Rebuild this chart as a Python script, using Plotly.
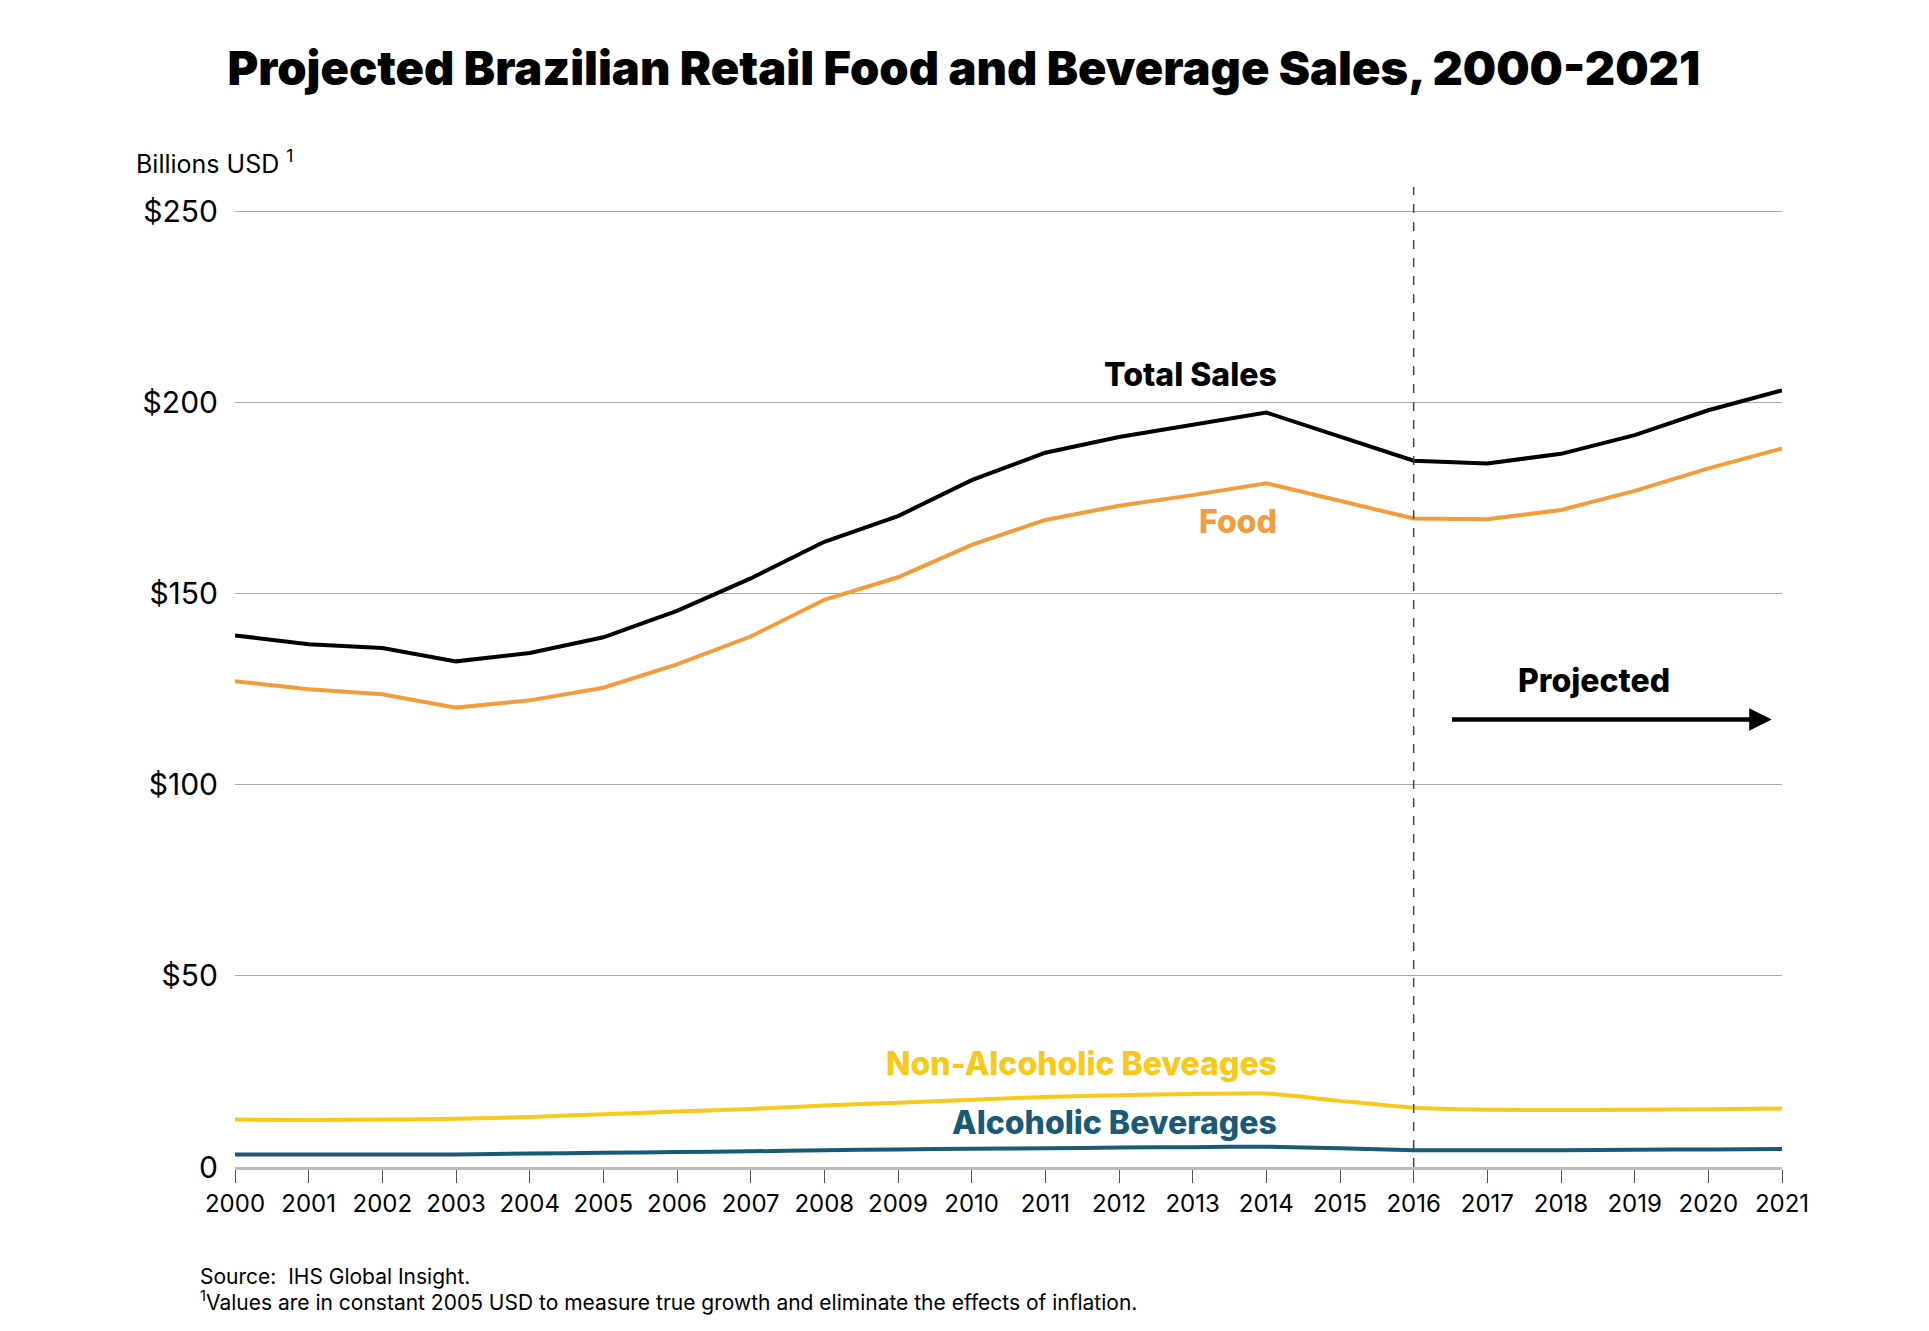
import plotly.graph_objects as go

# ── data (Billions USD, constant 2005 USD) ──
years = list(range(2000, 2022))
total_sales = [139.1, 136.8, 135.8, 132.3, 134.5, 138.6, 145.5, 154.0, 163.6, 170.3, 179.7,
               186.9, 191.0, 194.2, 197.4, 191.1, 184.8, 184.1, 186.6, 191.5, 198.0, 203.2]
food = [127.1, 125.0, 123.7, 120.2, 122.1, 125.4, 131.5, 138.8, 148.4, 154.3, 162.8,
        169.3, 173.0, 175.8, 178.9, 174.3, 169.7, 169.5, 171.9, 176.9, 182.8, 188.0]
non_alcoholic = [12.4, 12.3, 12.4, 12.6, 13.1, 13.8, 14.5, 15.2, 16.1, 16.8, 17.6,
                 18.3, 18.8, 19.1, 19.2, 17.3, 15.5, 15.0, 14.9, 15.0, 15.1, 15.3]
alcoholic = [3.3, 3.3, 3.3, 3.3, 3.5, 3.7, 3.9, 4.1, 4.4, 4.6, 4.8,
             4.9, 5.1, 5.2, 5.3, 4.9, 4.4, 4.4, 4.4, 4.5, 4.6, 4.7]

y_ticks = [0, 50, 100, 150, 200, 250]
y_tick_labels = ["0", "$50", "$100", "$150", "$200", "$250"]
projection_start = 2016

BLACK = "#000000"
ORANGE = "#F39C3B"
YELLOW = "#F8C918"
TEAL = "#195A78"
FONT = "Inter"

fig = go.Figure()

series = [
    (alcoholic, TEAL, "Alcoholic Beverages", "spline"),
    (non_alcoholic, YELLOW, "Non-Alcoholic Beveages", "spline"),
    (food, ORANGE, "Food", "linear"),
    (total_sales, BLACK, "Total Sales", "linear"),
]
for vals, color, name, shape in series:
    fig.add_trace(go.Scatter(
        x=years, y=vals, mode="lines", name=name,
        line=dict(color=color, width=4, shape=shape, smoothing=0.6),
        cliponaxis=False, showlegend=False,
    ))

# series labels
labels = [
    ("Total Sales", BLACK, 2014.17, 207.4),
    ("Food", ORANGE, 2014.17, 169.0),
    ("Non-Alcoholic Beveages", YELLOW, 2014.17, 27.0),
    ("Alcoholic Beverages", TEAL, 2014.17, 11.6),
]
for text, color, x, y in labels:
    fig.add_annotation(x=x, y=y, text=text, showarrow=False, xanchor="right",
                       yanchor="middle",
                       font=dict(family=FONT, size=32, color=color, weight=800))

# projected marker
fig.add_annotation(x=2018.45, y=127.3, text="Projected", showarrow=False,
                   font=dict(family=FONT, size=32, color=BLACK, weight=800))
fig.add_annotation(x=2020.86, y=117.1, ax=2016.5, ay=117.1,
                   xref="x", yref="y", axref="x", ayref="y",
                   text="", showarrow=True, arrowhead=2, arrowsize=1,
                   arrowwidth=4.5, arrowcolor=BLACK)

x_frac = (projection_start - years[0]) / (years[-1] - years[0])
fig.add_shape(type="line", xref="paper", yref="paper",
              x0=x_frac, x1=x_frac, y0=0, y1=1.024,
              line=dict(color="#444444", width=1.5, dash="dash"))

# axis title and footnotes
fig.add_annotation(xref="paper", yref="paper", x=-0.0655, y=1.0506,
                   text="Billions USD <sup>1</sup>", showarrow=False,
                   xanchor="left", yanchor="middle",
                   font=dict(family=FONT, size=25, color=BLACK))
fig.add_annotation(xref="paper", yref="paper", x=-0.024, y=-0.1145,
                   text="Source:  IHS Global Insight.", showarrow=False,
                   xanchor="left", yanchor="middle",
                   font=dict(family=FONT, size=21, color=BLACK))
fig.add_annotation(xref="paper", yref="paper", x=-0.024, y=-0.1395,
                   text="<sup>1</sup>Values are in constant 2005 USD to measure true growth "
                        "and eliminate the effects of inflation.",
                   showarrow=False, xanchor="left", yanchor="middle",
                   font=dict(family=FONT, size=21, color=BLACK))

fig.update_layout(
    width=1929, height=1331,
    paper_bgcolor="white", plot_bgcolor="white",
    margin=dict(l=227, r=155, t=202, b=172),
    title=dict(text="Projected Brazilian Retail Food and Beverage Sales, 2000-2021",
               x=0.4955, xanchor="center", y=1 - 61 / 1331, yanchor="middle",
               font=dict(family=FONT, size=47, color=BLACK, weight=900)),
    xaxis=dict(range=[years[0], years[-1]], tickvals=years,
               ticks="outside", ticklen=13, tickwidth=1, tickcolor="#555555",
               showline=True, linecolor="#BBBBBB", linewidth=3,
               showgrid=False, zeroline=False,
               tickfont=dict(family=FONT, size=24, color=BLACK)),
    yaxis=dict(range=[0, 250.4], tickvals=y_ticks, ticktext=y_tick_labels,
               showgrid=True, gridcolor="#A8A8A8", gridwidth=1.3,
               zeroline=False, showline=False, ticks="",
               ticklabelstandoff=16,
               tickfont=dict(family=FONT, size=30, color=BLACK)),
)

fig.write_html("out.html")
